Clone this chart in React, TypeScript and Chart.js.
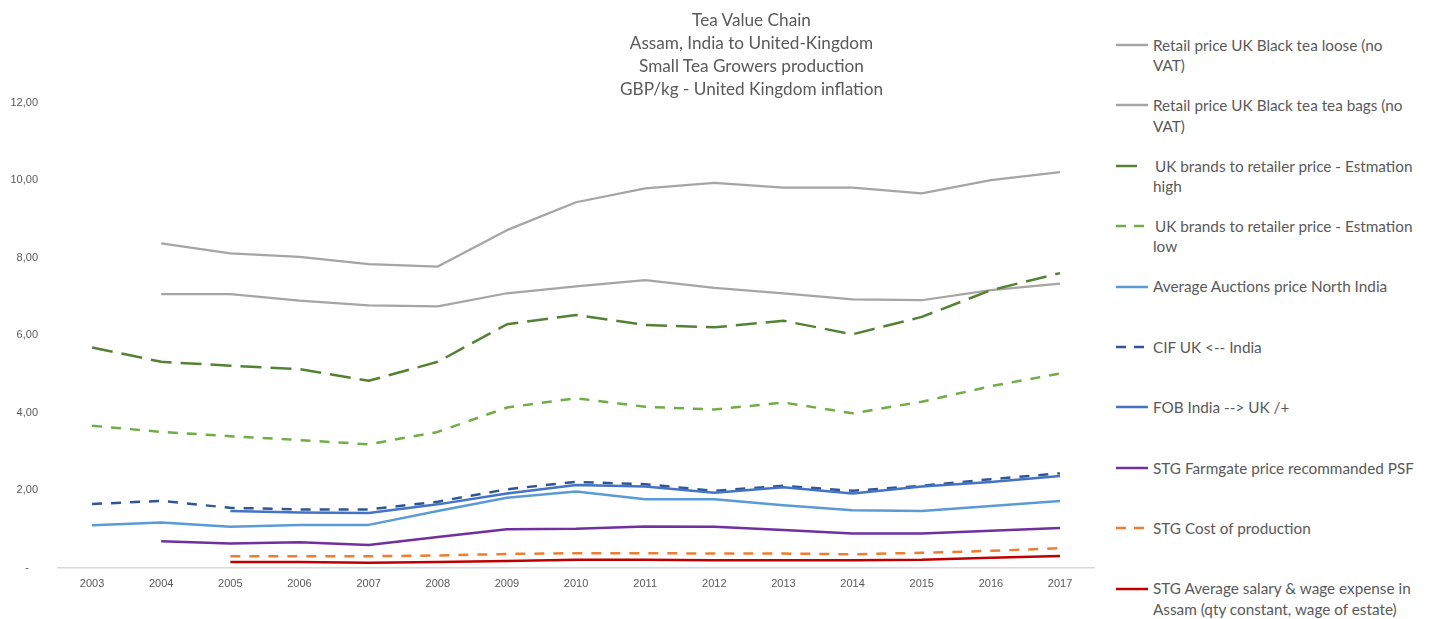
import { useEffect, useRef } from 'react';
import { Chart, registerables } from 'chart.js';

Chart.register(...registerables);

const years = ['2003', '2004', '2005', '2006', '2007', '2008', '2009', '2010', '2011', '2012', '2013', '2014', '2015', '2016', '2017'];

const retailLoose = [null, 8.37, 8.11, 8.02, 7.83, 7.77, 8.71, 9.43, 9.79, 9.93, 9.81, 9.81, 9.66, 10.0, 10.21];
const retailBags = [null, 7.06, 7.06, 6.89, 6.77, 6.74, 7.08, 7.26, 7.42, 7.22, 7.08, 6.92, 6.9, 7.16, 7.33];
const brandsHigh = [5.68, 5.31, 5.21, 5.12, 4.82, 5.31, 6.28, 6.52, 6.26, 6.2, 6.37, 6.02, 6.47, 7.16, 7.6];
const brandsLow = [3.66, 3.5, 3.39, 3.29, 3.18, 3.5, 4.13, 4.37, 4.15, 4.08, 4.26, 3.98, 4.28, 4.68, 5.01];
const auctions = [1.09, 1.16, 1.05, 1.1, 1.1, 1.46, 1.8, 1.96, 1.76, 1.76, 1.61, 1.48, 1.46, 1.59, 1.72];
const cif = [1.64, 1.72, 1.54, 1.5, 1.5, 1.7, 2.02, 2.21, 2.15, 1.98, 2.11, 1.98, 2.11, 2.28, 2.43];
const fob = [null, null, 1.46, 1.42, 1.41, 1.63, 1.91, 2.13, 2.09, 1.93, 2.07, 1.91, 2.09, 2.21, 2.36];
const farmgate = [null, 0.68, 0.62, 0.65, 0.58, 0.79, 0.99, 1.0, 1.06, 1.05, 0.97, 0.88, 0.88, 0.95, 1.02];
const costProduction = [null, null, 0.29, 0.29, 0.29, 0.31, 0.35, 0.37, 0.37, 0.36, 0.36, 0.34, 0.38, 0.43, 0.5];
const wageExpense = [null, null, 0.14, 0.14, 0.12, 0.14, 0.17, 0.2, 0.2, 0.19, 0.19, 0.19, 0.2, 0.25, 0.3];

const yTicks = [0, 2, 4, 6, 8, 10, 12];

const titleLines = [
  'Tea Value Chain',
  'Assam, India to United-Kingdom',
  'Small Tea Growers production',
  'GBP/kg - United Kingdom inflation',
];

const seriesLegend = [
  ['Retail price UK Black tea loose (no', 'VAT)'],
  ['Retail price UK Black tea tea bags (no', 'VAT)'],
  ['\u2009UK brands to retailer price - Estmation', 'high'],
  ['\u2009UK brands to retailer price - Estmation', 'low'],
  ['Average Auctions price North India'],
  ['CIF UK <-- India'],
  ['FOB India --> UK /+'],
  ['STG Farmgate price recommanded PSF'],
  ['STG Cost of production'],
  ['STG Average salary & wage expense in', 'Assam (qty constant, wage of estate)'],
];

const seriesValues = [retailLoose, retailBags, brandsHigh, brandsLow, auctions, cif, fob, farmgate, costProduction, wageExpense];
const seriesColors = ['#A5A5A5', '#A5A5A5', '#548235', '#70AD47', '#5B9BD5', '#2F5597', '#4472C4', '#7030A0', '#ED7D31', '#C00000'];
const seriesDash: number[][] = [[], [], [21, 9], [10, 9], [], [10, 9], [], [], [10, 9], []];
const legendDash: number[][] = [[], [], [21, 12], [10, 8], [], [10, 8], [], [], [10, 8], []];
const seriesWidth = [2.25, 2.25, 2.5, 2.5, 2.5, 2.5, 2.5, 2.5, 2.5, 2.5];

const TEXT = '#595959';
const FONT = 'Lato, "Open Sans", sans-serif';

export default function App() {
  const ref = useRef<HTMLCanvasElement>(null);

  useEffect(() => {
    const chart = new Chart(ref.current as HTMLCanvasElement, {
      type: 'line',
      data: {
        labels: years,
        datasets: seriesValues.map((vals, i) => ({
          label: seriesLegend[i].join(' ').trim(),
          data: vals,
          borderColor: seriesColors[i],
          backgroundColor: seriesColors[i],
          borderWidth: seriesWidth[i],
          borderDash: seriesDash[i],
          borderJoinStyle: 'round',
          borderCapStyle: 'butt',
          pointRadius: 0,
          pointHoverRadius: 0,
          fill: false,
          tension: 0,
          spanGaps: false,
          order: -i,
        })),
      },
      options: {
        responsive: false,
        animation: false,
        devicePixelRatio: 1,
        layout: { padding: { top: 102.7, right: 5.4, bottom: 0, left: 0 } },
        plugins: {
          legend: { display: false },
          title: { display: false },
          tooltip: { enabled: false },
        },
        scales: {
          x: {
            offset: true,
            grid: { display: false, drawTicks: false },
            border: { display: true, color: '#D9D9D9', width: 1.5 },
            ticks: {
              color: TEXT,
              font: { family: '"Liberation Sans", Arial, sans-serif', size: 11 },
              padding: 10,
              maxRotation: 0,
              autoSkip: false,
            },
            afterFit: (s: any) => {
              s.height = 51.5;
            },
          },
          y: {
            min: 0,
            max: 12,
            grid: { display: false, drawTicks: false },
            border: { display: false },
            afterBuildTicks: (s: any) => {
              s.ticks = yTicks.map((v) => ({ value: v }));
            },
            ticks: {
              color: TEXT,
              font: { family: '"Liberation Sans", Arial, sans-serif', size: 11 },
              padding: 19.5,
              callback: (v: any) => (Number(v) === 0 ? '-   ' : Number(v).toFixed(2).replace('.', ',')),
            },
            afterFit: (s: any) => {
              s.width = 57.5;
            },
          },
        },
      },
    } as any);
    return () => chart.destroy();
  }, []);

  return (
    <div style={{ position: 'fixed', left: 0, top: 0, width: 1432, height: 619, background: '#fff', overflow: 'hidden' }}>
      <canvas ref={ref} width={1100} height={619} style={{ position: 'absolute', left: 0, top: 0, width: 1100, height: 619 }} />
      <div
        style={{
          position: 'absolute',
          left: 451.5,
          width: 600,
          top: 7.5,
          textAlign: 'center',
          fontFamily: FONT,
          fontSize: 17.2,
          lineHeight: '23px',
          color: TEXT,
        }}
      >
        {titleLines.map((t, i) => (
          <div key={i}>{t}</div>
        ))}
      </div>
      {seriesLegend.map((lines, i) => {
        const center = 45 + 60.4 * i;
        return (
          <div key={i} style={{ position: 'absolute', left: 1116, top: center - 10.25, width: 316 }}>
            <svg width={32} height={6} style={{ position: 'absolute', left: 0, top: 7.25 }}>
              <line
                x1={0}
                y1={3}
                x2={32}
                y2={3}
                stroke={seriesColors[i]}
                strokeWidth={2.5}
                strokeDasharray={legendDash[i].length ? legendDash[i].join(' ') : undefined}
              />
            </svg>
            <div
              style={{
                position: 'absolute',
                left: 37,
                top: 0,
                whiteSpace: 'nowrap',
                fontFamily: FONT,
                fontSize: 15.3,
                lineHeight: '20.5px',
                color: TEXT,
              }}
            >
              {lines.map((t, j) => (
                <div key={j}>{t}</div>
              ))}
            </div>
          </div>
        );
      })}
    </div>
  );
}
